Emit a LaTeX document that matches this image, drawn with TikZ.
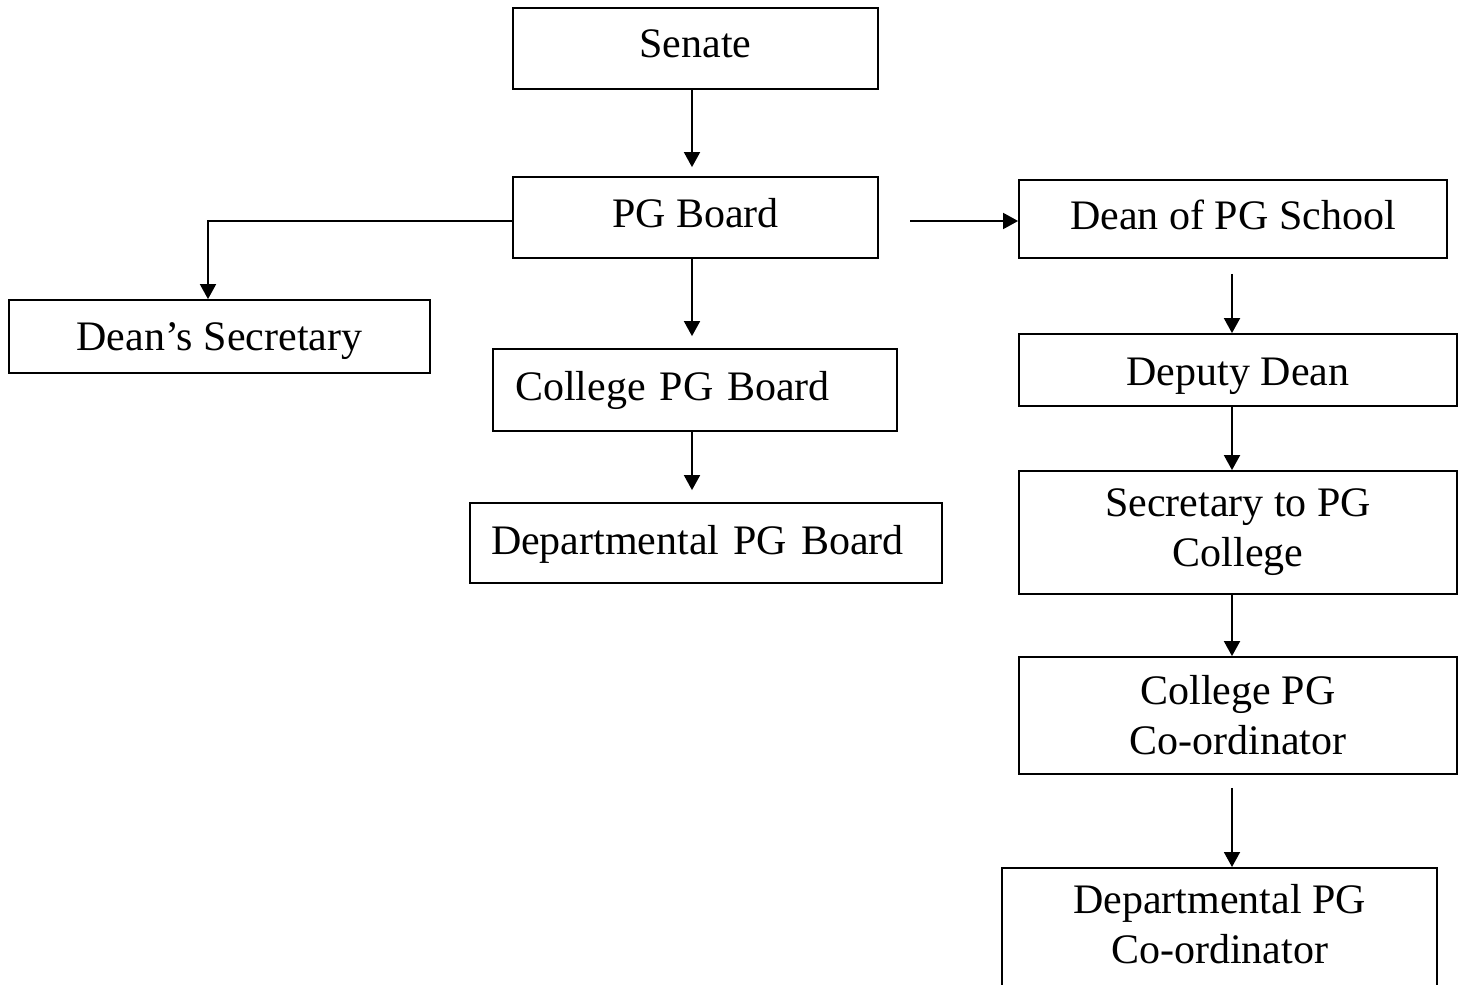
\documentclass[tikz,border=0pt]{standalone}
\usepackage{fontspec}
\setmainfont{Liberation Serif}
\usetikzlibrary{arrows.meta}

\tikzset{
  box/.style={draw, line width=1.8pt, inner sep=0pt, align=center,
    font=\fontsize{42}{50}\selectfont},
  oneline/.style={text height=28pt, text depth=#1},
  oneline/.default=9pt,
  arr/.style={line width=1.8pt, -{Triangle[length=15pt,width=16pt]}},
}

\begin{document}
\begin{tikzpicture}[x=1pt,y=1pt,yscale=-1,xscale=1]
            \useasboundingbox (0,0) rectangle (1465,985);
            \clip (0,0) rectangle (1465,985);
            % Columns of the connectors
            \coordinate (mcol) at (692,0);
            \coordinate (rcol) at (1232,0);
            \coordinate (secline) at (208,221);
            \coordinate (pgout) at (910,221);

            %Shape: Rectangle [Senate]
            \node [box, oneline=10pt, minimum width=365pt, minimum height=81pt] (senate) at (695.5,48.5) {Senate};
            %Shape: Rectangle [PG Board]
            \node [box, oneline, minimum width=365pt, minimum height=81pt] (pgboard) at (695.5,217.5) {PG Board};
            %Shape: Rectangle [Dean's Secretary]
            \node [box, text height=29pt, text depth=2pt, minimum width=421pt, minimum height=73pt] (deansec) at (219.5,336.5) {Dean’s Secretary};
            %Shape: Rectangle [College PG Board]
            \node [box, oneline=8pt, align=left, inner xsep=22pt, text width=360pt, minimum height=82pt] (collboard) at (695,390) {College PG Board};
            %Shape: Rectangle [Departmental PG Board]
            \node [box, oneline=6pt, align=left, inner xsep=21pt, text width=430pt, minimum height=80pt] (deptboard) at (706,543) {Departmental PG Board};

            %Shape: Rectangle [Dean of PG School]
            \node [box, oneline=7pt, minimum width=428pt, minimum height=78pt] (dean) at (1233,219) {Dean of PG School};
            %Shape: Rectangle [Deputy Dean]
            \node [box, text height=32pt, text depth=2pt, minimum width=438pt, minimum height=72pt] (deputy) at (1238,370) {Deputy Dean};
            %Shape: Rectangle [Secretary to PG College]
            \node [box, minimum width=438pt, minimum height=123pt] (secretary) at (1238,532.5) {Secretary to PG\\College};
            %Shape: Rectangle [College PG Co-ordinator]
            \node [box, minimum width=438pt, minimum height=117pt] (collcoord) at (1238,715.5) {College PG\\Co-ordinator};
            %Shape: Rectangle [Departmental PG Co-ordinator]
            \node [box, anchor=north, minimum width=435pt, inner ysep=16pt, text depth=100pt] (deptcoord) at (1219.5,867) {Departmental PG\\Co-ordinator};

            %Straight Lines
            \draw [arr, shorten >=9pt] (senate.south -| mcol) -- (pgboard.north -| mcol);
            \draw [arr, shorten >=12pt] (pgboard.south -| mcol) -- (collboard.north -| mcol);
            \draw [arr, shorten >=12pt] (collboard.south -| mcol) -- (deptboard.north -| mcol);
            \draw [arr] (pgboard.west |- secline) -- (secline) -- (secline |- deansec.north);
            \draw [arr] (pgout) -- (pgout -| dean.west);

            \draw [arr, shorten <=15pt] (dean.south -| rcol) -- (deputy.north -| rcol);
            \draw [arr] (deputy.south -| rcol) -- (secretary.north -| rcol);
            \draw [arr] (secretary.south -| rcol) -- (collcoord.north -| rcol);
            \draw [arr, shorten <=13pt] (collcoord.south -| rcol) -- (deptcoord.north -| rcol);
        \end{tikzpicture}
\end{document}
